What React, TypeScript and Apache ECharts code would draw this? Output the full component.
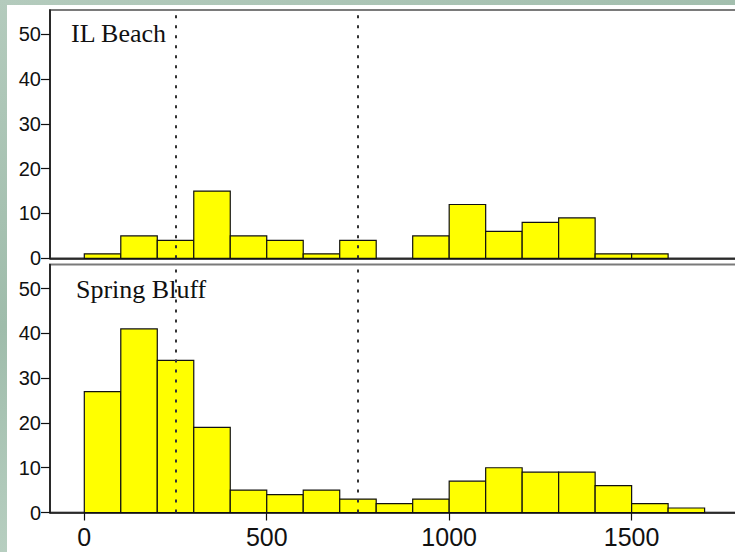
import React, { useEffect, useRef } from "react";
import * as echarts from "echarts";

// Histogram bins (start of each 100-wide bin)
const binStarts = [0, 100, 200, 300, 400, 500, 600, 700, 800, 900, 1000, 1100, 1200, 1300, 1400, 1500, 1600];
const BIN_WIDTH = 100;
const ilBeachCounts = [1, 5, 4, 15, 5, 4, 1, 4, 0, 5, 12, 6, 8, 9, 1, 1, 0];
const springBluffCounts = [27, 41, 34, 19, 5, 4, 5, 3, 2, 3, 7, 10, 9, 9, 6, 2, 1];
const thresholds = [250, 750];
const xTickValues = [0, 500, 1000, 1500];
const yTickValues = [0, 10, 20, 30, 40, 50];
const panelTitles = ["IL Beach", "Spring Bluff"];

const X_MIN = -94;
const X_MAX = 1797;
const Y_MAX = 55.4;

function binData(counts: number[]) {
  return binStarts.map((s, i) => [s, s + BIN_WIDTH, counts[i]]);
}

export default function App() {
  const ref = useRef<HTMLDivElement>(null);
  useEffect(() => {
    if (!ref.current) return;
    const chart = echarts.init(ref.current, undefined, { renderer: "svg" });
    const grids = [
      { left: 50, width: 690, top: 10, height: 248.3 },
      { left: 50, width: 690, top: 264.5, height: 248 },
    ];
    const renderItem = (params: any, api: any) => {
      const v = api.value(2);
      if (!v) return null;
      const p0 = api.coord([api.value(0), 0]);
      const p1 = api.coord([api.value(1), v]);
      return {
        type: "rect",
        shape: { x: p0[0], y: p1[1], width: p1[0] - p0[0], height: p0[1] - p1[1] },
        style: { fill: "#ffff00", stroke: "#111", lineWidth: 1.2 },
      };
    };
    const allCounts = [ilBeachCounts, springBluffCounts];
    const plain = (v: number) => String(v);
    chart.setOption({
      animation: false,
      backgroundColor: "transparent",
      grid: grids.map((g) => ({ ...g, show: true, borderColor: "#7a7a7a", borderWidth: 2, backgroundColor: "transparent" })),
      xAxis: grids.map((_, i) => ({
        type: "value",
        gridIndex: i,
        min: X_MIN,
        max: X_MAX,
        splitLine: { show: false },
        axisLine: { show: true, onZero: false, lineStyle: { color: "#111", width: 1.5 } },
        axisTick: {
          show: i === 1,
          length: 8,
          customValues: xTickValues,
          lineStyle: { color: "#111", width: 1.2 },
        },
        axisLabel: {
          show: i === 1,
          customValues: xTickValues,
          formatter: plain,
          fontSize: 25,
          fontFamily: "'Liberation Sans', Arial, sans-serif",
          color: "#111",
          margin: 12,
        },
      })),
      yAxis: grids.map((_, i) => ({
        type: "value",
        gridIndex: i,
        min: 0,
        max: Y_MAX,
        splitLine: { show: false },
        axisLine: { show: true, onZero: false, lineStyle: { color: "#111", width: 1.5 } },
        axisTick: {
          show: true,
          length: 9,
          customValues: yTickValues,
          lineStyle: { color: "#111", width: 1.2 },
        },
        axisLabel: {
          customValues: yTickValues,
          formatter: plain,
          fontSize: 20,
          fontFamily: "'Liberation Sans', Arial, sans-serif",
          color: "#111",
          margin: 9,
        },
      })),
      series: [
        ...allCounts.map((c, i) => ({
          type: "custom",
          xAxisIndex: i,
          yAxisIndex: i,
          renderItem,
          encode: { x: [0, 1], y: 2 },
          data: binData(c),
          z: 2,
        })),
        ...allCounts.map((_, i) => ({
          type: "line",
          xAxisIndex: i,
          yAxisIndex: i,
          data: [],
          z: 5,
          markLine: {
            silent: true,
            symbol: "none",
            label: { show: false },
            lineStyle: { type: [3, 7], color: "#333", width: 2 },
            data: thresholds.map((t) => ({ xAxis: t })),
          },
        })),
      ],
      graphic: [
        {
          type: "text",
          left: 71,
          top: 20,
          style: { text: panelTitles[0], font: "26px 'Liberation Serif', 'Times New Roman', serif", fill: "#111" },
          z: 10,
        },
        {
          type: "text",
          left: 76,
          top: 276,
          style: { text: panelTitles[1], font: "26px 'Liberation Serif', 'Times New Roman', serif", fill: "#111" },
          z: 10,
        },
      ],
    });
    return () => chart.dispose();
  }, []);
  return (
    <div
      style={{
        position: "fixed",
        left: 0,
        top: 0,
        width: 735,
        height: 552,
        overflow: "hidden",
        background: "linear-gradient(160deg, #b4cbbd 0%, #9fbcab 40%, #b9d0c2 70%, #a6c1b1 100%)",
      }}
    >
      <div style={{ position: "absolute", left: 7, top: 5, width: 728, height: 547, background: "#ffffff" }} />
      <div ref={ref} style={{ position: "absolute", left: 0, top: 0, width: 760, height: 552 }} />
    </div>
  );
}
